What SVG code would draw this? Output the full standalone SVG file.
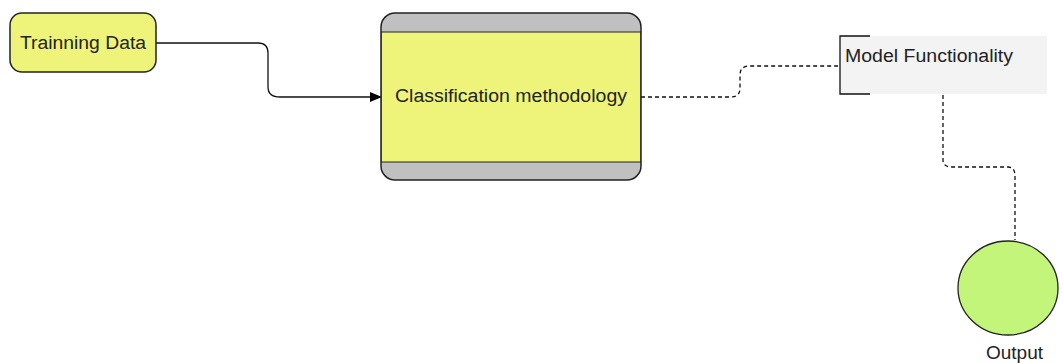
<svg xmlns="http://www.w3.org/2000/svg" width="1063" height="363" viewBox="0 0 1063 363">
<style>
text{font-family:"Liberation Sans",Arial,sans-serif;font-size:18px;fill:#222}
.edge{fill:none;stroke:#111;stroke-width:1.3}
.dash{stroke-dasharray:4 3}
</style>
<defs>
<marker id="arr" markerWidth="12" markerHeight="10" refX="11" refY="5" orient="auto" markerUnits="userSpaceOnUse">
<path d="M0,0 L12,5 L0,10 Z" fill="#000"/>
</marker>
<clipPath id="cmclip"><rect x="381" y="13" width="260" height="167" rx="14"/></clipPath>
</defs>
<rect width="1063" height="363" fill="#fff"/>
<g id="connectors">
<path class="edge" d="M156,43 H258 Q268,43 268,53 V87 Q268,97 280,97 H381" marker-end="url(#arr)"/>
<path class="edge dash" d="M641,97 H731 Q740,97 740,88 V75 Q740,66 750,66 H838"/>
<path class="edge dash" d="M943,95 V160 Q943,167 952,167 H1008 Q1015,167 1015,176 V240"/>
</g>
<g id="training-data">
<rect x="10" y="13" width="146" height="59" rx="12" fill="#eef47a" stroke="#222" stroke-width="1.5"/>
<text x="20" y="49" textLength="126" lengthAdjust="spacingAndGlyphs">Trainning Data</text>
</g>
<g id="classification">
<g clip-path="url(#cmclip)">
<rect x="381" y="13" width="260" height="167" fill="#c0c0c0"/>
<rect x="381" y="32" width="260" height="130" fill="#eef47a" stroke="#222" stroke-width="1"/>
</g>
<rect x="381" y="13" width="260" height="167" rx="14" fill="none" stroke="#222" stroke-width="1.5"/>
<text x="395" y="102" textLength="232" lengthAdjust="spacingAndGlyphs">Classification methodology</text>
</g>
<g id="model-functionality">
<rect x="840" y="36" width="207" height="58" fill="#f3f3f3"/>
<path d="M870,36 H840 V94 H870" fill="none" stroke="#111" stroke-width="1.3"/>
<text x="845" y="62" textLength="168" lengthAdjust="spacingAndGlyphs">Model Functionality</text>
</g>
<g id="output">
<ellipse cx="1008" cy="288" rx="50" ry="47" fill="#c2f57a" stroke="#222" stroke-width="1.3"/>
<text x="986" y="359" textLength="57" lengthAdjust="spacingAndGlyphs">Output</text>
</g>
</svg>
